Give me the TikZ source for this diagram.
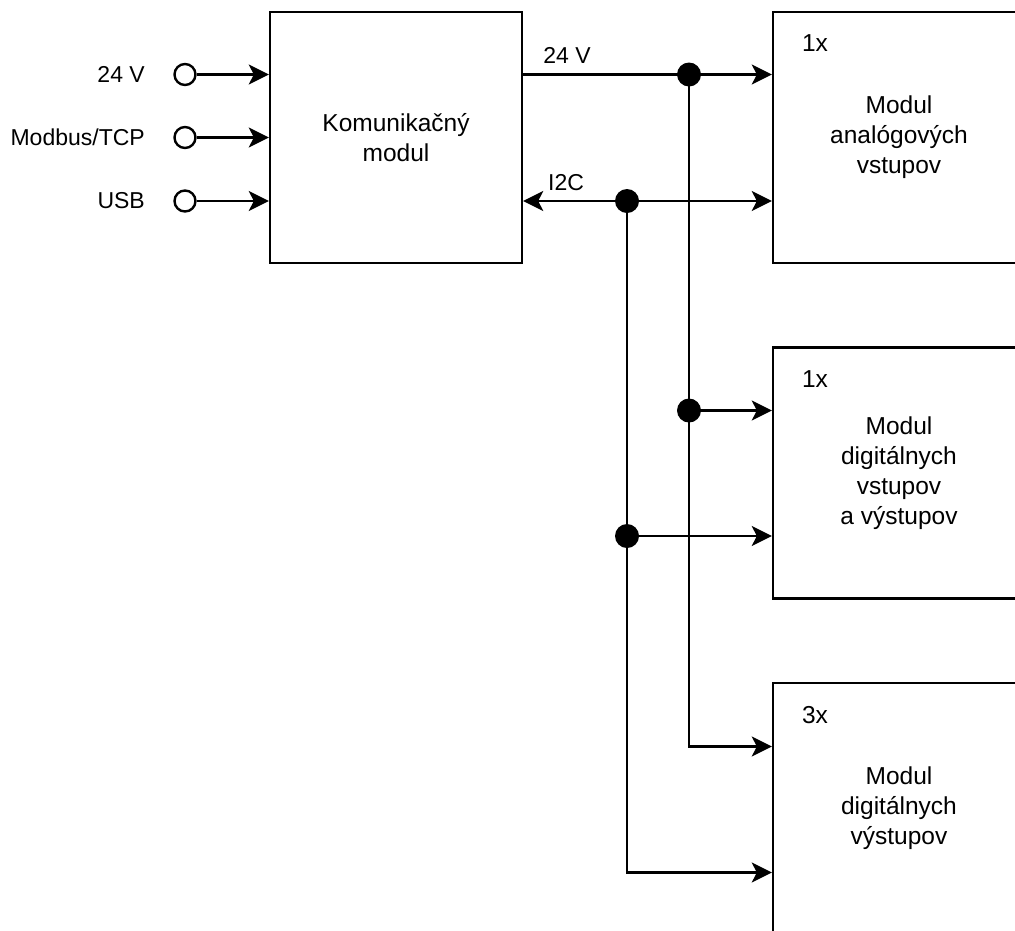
\documentclass[tikz,border=0pt]{standalone}
\usepackage{fontspec}
\setmainfont{Liberation Sans}
\usetikzlibrary{arrows.meta,calc}
\begin{document}
\begin{tikzpicture}[x=1pt,y=-1pt,
  line width=2.4pt,
  arr/.style={-{Stealth[length=20pt,width=20pt,inset=5pt]}},
  blk/.style={draw,rectangle,minimum width=252pt,minimum height=251pt,inner sep=0pt,align=center,font=\fontsize{24.5}{30}\selectfont},
  term/.style={draw,circle,minimum size=21pt,inner sep=0pt,fill=white},
  dot/.style={circle,fill=black,minimum size=24pt,inner sep=0pt},
  lbl/.style={font=\fontsize{23}{26}\selectfont,inner sep=0pt},
  cnt/.style={font=\fontsize{24.5}{28}\selectfont,inner sep=0pt}]
\useasboundingbox (0,0) rectangle (1015,930);
\clip (0,0) rectangle (1015,930);

% blocks
\node[blk] (comm) at (396,137.5) {Komunikačný\\modul};
\node[blk] (ain) at (899,137.5) {Modul\\analógových\\vstupov};
\node[blk] (dio) at (899,473) {Modul\\digitálnych\\vstupov\\a výstupov};
\node[blk] (dout) at (899,808.5) {Modul\\digitálnych\\výstupov};
\node[cnt] (n1) at (815,43) {1x};
\node[cnt] (n2) at (815,379) {1x};
\node[cnt] (n3) at (815,715) {3x};

% input terminals
\node[term] (t1) at (185,74.5) {};
\node[term] (t2) at (185,137.5) {};
\node[term] (t3) at (185,201) {};
\node[lbl,anchor=east] (l1) at (146,74.5) {24 V};
\node[lbl,anchor=east] (l2) at (146,137.5) {Modbus/TCP};
\node[lbl,anchor=east] (l3) at (146,201) {USB};
\draw[arr] (t1) -- (t1 -| comm.west);
\draw[arr] (t2) -- (t2 -| comm.west);
\draw[arr] (t3) -- (t3 -| comm.west);

% junctions
\coordinate (j1) at (689,74.5);
\coordinate (j2) at (627,201);
\coordinate (j3) at (689,410.5);
\coordinate (j4) at (627,536);
\coordinate (k1) at (689,746.5);
\coordinate (k2) at (627,872.5);

% 24 V bus
\draw[arr] (comm.east |- j1) -- (ain.west |- j1);
\draw[arr] (j1) -- (k1) -- (dout.west |- k1);
\draw[arr] (j3) -- (dio.west |- j3);

% I2C bus
\draw[arr] (j2) -- (comm.east |- j2);
\draw[arr] (j2) -- (ain.west |- j2);
\draw[arr] (j2) -- (k2) -- (dout.west |- k2);
\draw[arr] (j4) -- (dio.west |- j4);

\node[dot] (d1) at (j1) {};
\node[dot] (d2) at (j2) {};
\node[dot] (d3) at (j3) {};
\node[dot] (d4) at (j4) {};

\node[lbl] (v24) at (567,55) {24 V};
\node[lbl] (i2c) at (566,183) {I2C};
\end{tikzpicture}
\end{document}
